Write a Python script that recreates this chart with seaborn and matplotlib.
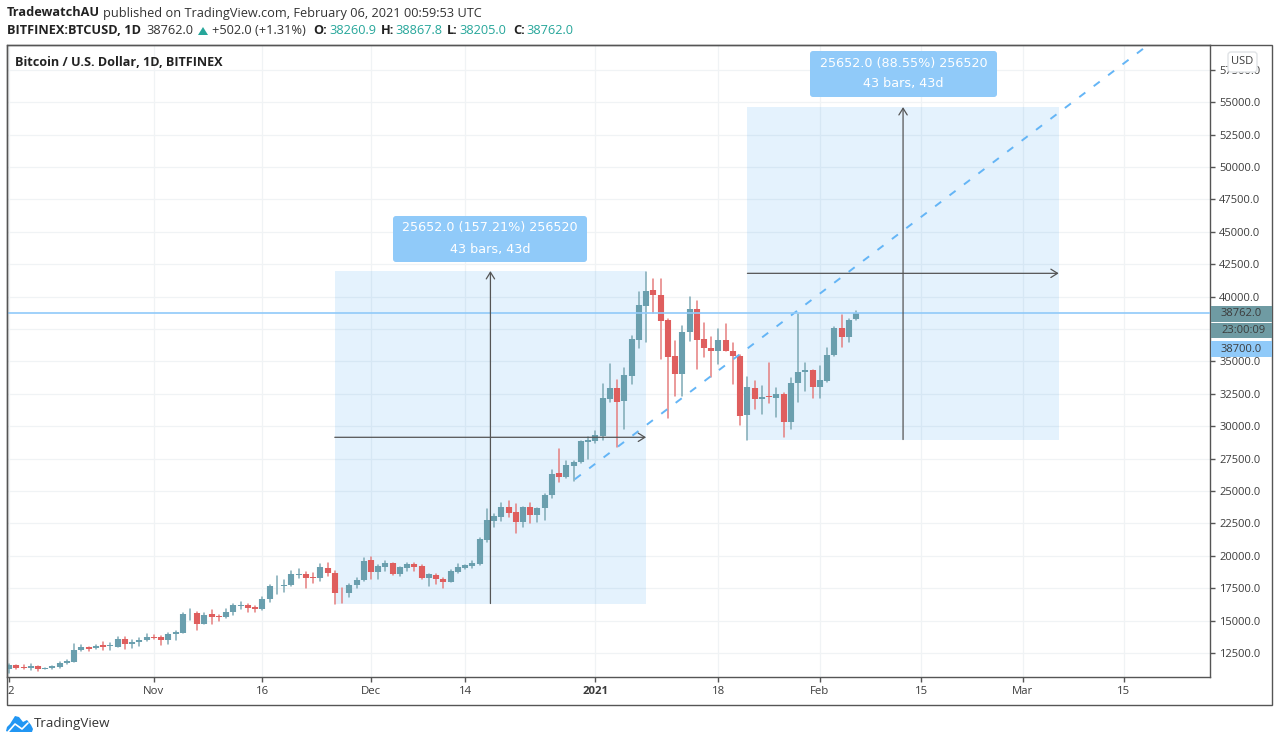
import numpy as np
import pandas as pd
import matplotlib
matplotlib.use('Agg')
import matplotlib.pyplot as plt
from matplotlib.patches import FancyBboxPatch, Polygon, Rectangle
import seaborn as sns

# Daily BTCUSD bars, 12 Oct 2020 to 6 Feb 2021
opens = [11290, 11550, 11450, 11320, 11470, 11290, 11340, 11450, 11700, 11830, 12730, 12940, 12860, 13090, 13070,
         12990, 13580, 13170, 13380, 13480, 13740, 13710, 13480, 13940, 14070, 15510, 15560, 14740, 15510, 15360,
         15280, 15660, 16150, 16230, 16020, 15900, 16690, 17640, 17700, 17750, 18550, 18600, 18360, 18310, 19090,
         18650, 17160, 17100, 17720, 18130, 19680, 18780, 19140, 19420, 18570, 19080, 19370, 19190, 18260, 18540,
         18240, 18000, 18750, 19080, 19210, 19370, 21220, 22690, 23020, 23740, 23350, 22630, 23740, 23150, 23660,
         24670, 26360, 26110, 26950, 27210, 28810, 28860, 29270, 32100, 32970, 31920, 33900, 36680, 39300, 40480,
         40150, 38190, 35390, 34030, 37270, 39070, 36730, 36030, 35800, 36650, 35830, 35440, 30840, 32970, 32070,
         32310, 32180, 32460, 30320, 33310, 34210, 34310, 33050, 33510, 35470, 37600, 36860, 38261]
highs = [11630, 11550, 11550, 11630, 11470, 11370, 11520, 11810, 11990, 13200, 13120, 12990, 13140, 13320, 13250,
         13710, 13760, 13500, 13630, 13990, 13890, 13810, 14070, 14220, 15610, 15870, 15640, 15610, 15790, 15460,
         15920, 16280, 16440, 16280, 16130, 16800, 17770, 18420, 18130, 18800, 18960, 18730, 18650, 19370, 19420,
         18850, 17490, 17800, 18290, 19800, 19930, 19290, 19600, 19470, 19160, 19420, 19470, 19260, 18600, 18570,
         18260, 18900, 19340, 19290, 19600, 21370, 23590, 23250, 24050, 24230, 24000, 23740, 24050, 23710, 24770,
         26620, 28220, 27340, 27310, 28880, 29190, 29600, 33230, 34800, 33570, 34470, 36960, 40330, 41920, 41360,
         41360, 38250, 36600, 37730, 39940, 39640, 37940, 36910, 37470, 37860, 36390, 35490, 33820, 33490, 33100,
         34850, 32920, 32540, 33690, 38660, 34850, 34310, 34670, 36010, 37630, 38580, 38250, 38868]
lows = [10980, 11240, 11240, 11190, 11140, 11240, 11290, 11320, 11650, 11780, 12650, 12650, 12780, 12760, 12730,
        12990, 12830, 12910, 13070, 13400, 13560, 13090, 13220, 13500, 14070, 15050, 14300, 14710, 14760, 15000,
        15230, 15410, 15870, 15660, 15690, 15790, 16460, 17050, 17230, 17670, 18290, 17520, 17930, 18080, 18440,
        16260, 16380, 16850, 17490, 18080, 18180, 18240, 18830, 18490, 18470, 18830, 18830, 18180, 17670, 17850,
        17540, 17980, 18650, 19010, 19030, 19320, 21090, 22250, 22690, 23020, 21790, 22250, 22560, 22630, 22760,
        24430, 25720, 25980, 25800, 27190, 27440, 28680, 28940, 31890, 28420, 29760, 33260, 36060, 36520, 38710,
        35160, 30610, 32360, 32330, 36570, 34410, 35370, 33770, 34770, 35800, 33260, 30090, 28940, 31330, 30920,
        31820, 30740, 29190, 29780, 31890, 32740, 32150, 32200, 33440, 35420, 36090, 36470, 38205]
closes = [11550, 11340, 11340, 11500, 11240, 11340, 11470, 11730, 11880, 12760, 12940, 12810, 13070, 12990, 13090,
          13580, 13170, 13380, 13530, 13760, 13680, 13480, 13970, 14100, 15540, 15540, 14760, 15430, 15280, 15280,
          15660, 16230, 16200, 15950, 15900, 16690, 17640, 17700, 17770, 18600, 18620, 18310, 18310, 19110, 18650,
          17100, 17100, 17720, 18160, 19620, 18750, 19190, 19420, 18570, 19110, 19370, 19160, 18260, 18570, 18180,
          18000, 18800, 19110, 19260, 19420, 21270, 22740, 23070, 23770, 23330, 22630, 23740, 23150, 23690, 24720,
          26340, 26110, 26980, 27260, 28830, 28910, 29300, 32150, 32920, 31890, 33930, 36750, 39330, 40460, 40120,
          38140, 35370, 34030, 37290, 39070, 36680, 36010, 35800, 36650, 35800, 35420, 30790, 33030, 32070, 32280,
          32230, 32460, 30320, 33330, 34180, 34310, 33050, 33540, 35520, 37600, 36860, 38190, 38762]

# Time scale labels and the bar number each one sits on
tick_bars = [0, 20, 35, 50, 63, 81, 98, 112, 126, 140, 154]
tick_names = ['2', 'Nov', '16', 'Dec', '14', '2021', '18', 'Feb', '15', 'Mar', '15']
price_ticks = [12500, 15000, 17500, 20000, 22500, 25000, 27500, 30000, 32500, 35000, 37500, 40000,
               42500, 45000, 47500, 50000, 52500, 55000, 57500]

# Projection drawing tools: first bar, last bar, base price, top price
range_bars = [(45, 88, 16317, 41969), (102, 145, 28969, 54621)]
range_labels = ['25652.0 (157.21%) 256520', '25652.0 (88.55%) 256520']
trend_bars = [78.15, 156.8]
trend_prices = [25903, 59182]
last_price = 38762

GREEN = '#6a9fae'
RED = '#df5e5e'
BLUE = '#90caf9'
INK = '#3c3c3c'

sns.set_theme(style='white')
plt.rcParams['font.family'] = ['Open Sans', 'DejaVu Sans']

n_bars = len(opens)
bars = pd.DataFrame({'bar': np.arange(n_bars), 'open': opens, 'high': highs, 'low': lows, 'close': closes})
bars['side'] = np.where(bars['close'] >= bars['open'], 'up', 'down')
wicks = bars.melt(id_vars=['bar', 'side'], value_vars=['low', 'high'], value_name='price')
bodies = bars.melt(id_vars=['bar', 'side'], value_vars=['open', 'close'], value_name='price')

fig = plt.figure(figsize=(12.8, 7.44), dpi=100, facecolor='white')
ax = fig.add_axes([7 / 1280, 1 - 677 / 744, 1203 / 1280, 632 / 744])

# Grid under everything
ax.set_axisbelow(True)
ax.grid(True, color='#f0f3f5', lw=0.9)

for first, last, base, top in range_bars:
    ax.add_patch(Rectangle((first, base), last - first, top - base, fc='#2196f3', alpha=0.12, lw=0, zorder=1))

sns.lineplot(data=wicks, x='bar', y='price', units='bar', hue='side', palette={'up': '#7ea9b5', 'down': '#e57f7f'},
             estimator=None, sort=False, lw=1.1, legend=False, ax=ax, zorder=3)
sns.lineplot(data=bodies, x='bar', y='price', units='bar', hue='side', palette={'up': GREEN, 'down': RED},
             estimator=None, sort=False, lw=4.4, solid_capstyle='butt', legend=False, ax=ax, zorder=4)

ax.plot(trend_bars, trend_prices, color='#64b5f6', lw=1.4, dashes=(3.9, 5.4), zorder=5)
ax.axhline(last_price, color=BLUE, lw=1.2, zorder=5)

# Cross arrows of the two ranges
for first, last, base, top in range_bars:
    mid_bar = (first + last) / 2
    mid_price = (base + top) / 2
    arrow = dict(arrowstyle='->,head_length=0.4,head_width=0.25', color='#555555', lw=0.9, shrinkA=0, shrinkB=0)
    ax.annotate('', xy=(mid_bar, top), xytext=(mid_bar, base), arrowprops=arrow, zorder=6)
    ax.annotate('', xy=(last, mid_price), xytext=(first, mid_price), arrowprops=arrow, zorder=6)

ax.set_xlim(-0.28, 165.9)
ax.set_ylim(10648, 59413)
ax.set_xlabel('')
ax.set_ylabel('')
ax.set_xticks(tick_bars)
ax.set_xticklabels([])
ax.yaxis.tick_right()
ax.set_yticks(price_ticks)
# 37500.0 sits behind the countdown badge in the reference
ax.set_yticklabels(['' if p == 37500 else '%.1f' % p for p in price_ticks], fontsize=8, color=INK)
ax.tick_params(axis='both', length=3.6, width=1, color='#555555', left=False, right=True, bottom=True, pad=3)
for spine in ax.spines.values():
    spine.set_color('#555555')
    spine.set_linewidth(1)

# Everything else is placed in screen pixels on a clear layer
top = fig.add_axes([0, 0, 1, 1], facecolor='none')
top.set_xlim(0, 1280)
top.set_ylim(744, 0)
top.axis('off')

top.add_patch(Rectangle((7, 45), 1265, 660, fc='none', ec='#555555', lw=1))


def label(x, y, s, **kw):
    kw.setdefault('fontsize', 9.2)
    kw.setdefault('color', '#222222')
    kw.setdefault('va', 'center')
    top.text(x, y, s, **kw)


label(7, 13, 'TradewatchAU', fontweight='bold')
label(103, 13, 'published on TradingView.com, February 06, 2021 00:59:53 UTC', color='#333333')
label(7, 31, 'BITFINEX:BTCUSD, 1D', fontweight='bold')
label(146, 31, '38762.0', color='#333333')
top.add_patch(Polygon([(198, 35), (208, 35), (203, 27)], fc='#26a69a', lw=0))
label(212, 31, '+502.0 (+1.31%)', color='#333333')
ohlc_x = [(313, 329, 'O:', '38260.9'), (381, 395, 'H:', '38867.8'), (447, 459, 'L:', '38205.0'), (513, 526, 'C:', '38762.0')]
for name_x, value_x, name, value in ohlc_x:
    label(name_x, 31, name, fontweight='bold')
    label(value_x, 31, value, color='#26a69a')
label(15, 62, 'Bitcoin / U.S. Dollar, 1D, BITFINEX', fontweight='bold', fontsize=9.1)

# Range labels
for (x0, y0, w, h), text in zip([(393, 216, 194, 46), (810, 51, 187, 46)], range_labels):
    top.add_patch(FancyBboxPatch((x0 + 3, y0 + 3), w - 6, h - 6, boxstyle='round,pad=3,rounding_size=3', fc=BLUE, lw=0))
    label(x0 + w / 2, y0 + 12, text, ha='center', color='white', family='DejaVu Sans', fontsize=9.2)
    label(x0 + w / 2, y0 + 33, '43 bars, 43d', ha='center', color='white', family='DejaVu Sans', fontsize=9.2)

# Price scale badges
for y0, h, color, text in [(306, 16, '#6f9ba3', '38762.0'), (323, 15, '#6f9ba3', '23:00:09'), (341, 16, BLUE, '38700.0')]:
    top.add_patch(Rectangle((1211, y0), 61, h, fc=color, lw=0))
    label(1221, y0 + h / 2, text, fontsize=8, color=INK)
top.add_patch(FancyBboxPatch((1230, 54), 25, 16, boxstyle='round,pad=2,rounding_size=3', fc='white', ec='#e0e3e6', lw=1))
label(1242, 62, 'USD', ha='center', fontsize=8, color=INK)

# Time scale labels
for bar, name in zip(tick_bars, tick_names):
    x = 9 + bar * 7.24
    if name == '2':
        x = 11
    label(x, 692, name, ha='center', fontsize=8.2, color=INK, fontweight='bold' if name == '2021' else 'normal')

# TradingView mark
cloud = [(6, 731), (7, 727), (10, 724), (15, 716), (19, 717), (23, 722), (27, 720), (31, 725), (33, 729), (32, 732), (8, 732)]
top.add_patch(Polygon(cloud, fc='#2196f3', lw=0))
top.plot([8, 15, 22, 28], [732, 724, 729, 723], color='white', lw=1.2)
label(34, 724, 'TradingView', fontsize=9.6, color='#333333')

fig.savefig('out.png', dpi=100)
